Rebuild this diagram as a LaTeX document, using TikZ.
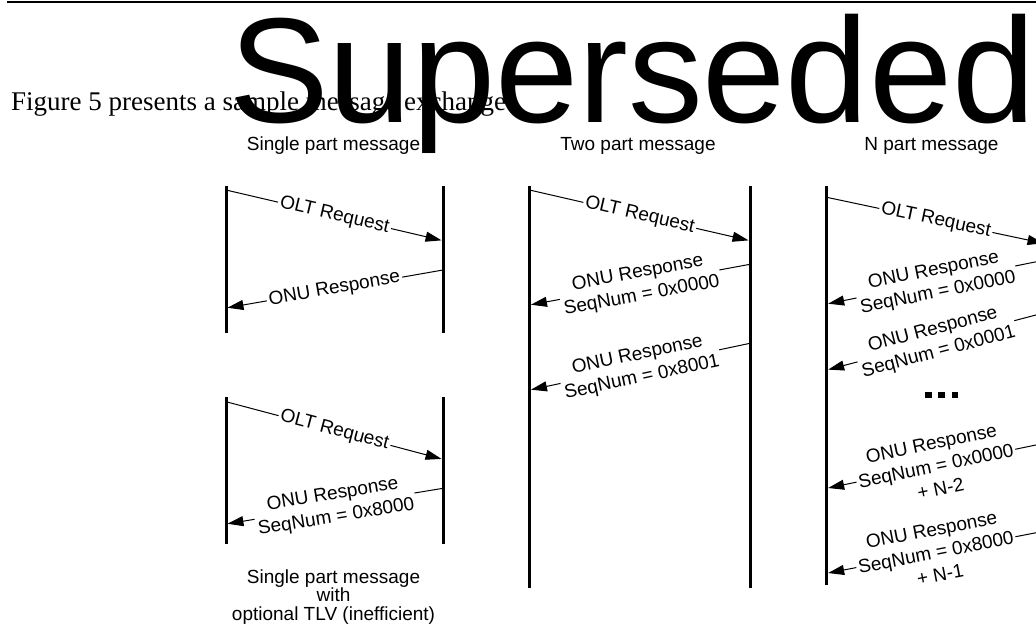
\documentclass[tikz,border=0pt]{standalone}
\usepackage{fontspec}
\setmainfont{Liberation Serif}
\newfontfamily\arialfont{Liberation Sans}
\usetikzlibrary{arrows.meta}
\begin{document}
\begin{tikzpicture}[x=1pt,y=-1pt,
  life/.style={line width=3pt},
  msg/.style={line width=1pt,-{Triangle[length=16pt,width=10pt]},shorten >=1.5pt},
  lbl/.style={sloped,fill=white,inner sep=2pt,align=center,
    font=\arialfont\fontsize{19}{23}\selectfont},
  txt/.style={inner sep=0pt,font=\arialfont\fontsize{19}{22}\selectfont}]
\useasboundingbox (0,0) rectangle (1036,635);
\begin{scope}
\clip (0,0) rectangle (1036,635);
% top rule
\draw[line width=2pt] (7,2) -- (1040,2);
% intro text
\node[anchor=base west,inner sep=0pt,font=\fontsize{27}{30}\selectfont] (intro) at (11,110) {Figure 5 presents a sample message exchange};
% headers
\node[txt,anchor=base] (h1) at (333.5,150) {Single part message};
\node[txt,anchor=base] (h2) at (638,150) {Two part message};
\node[txt,anchor=base] (h3) at (931.5,150) {N part message};
% footer
\node[txt,anchor=base] (f1) at (333.5,583) {Single part message};
\node[txt,anchor=base] (f2) at (333.5,601.5) {with};
\node[txt,anchor=base] (f3) at (333.5,620) {optional TLV (inefficient)};
% lifelines
\draw[life] (226,186) -- (226,333);
\draw[life] (443,186) -- (443,333);
\draw[life] (226,397) -- (226,544);
\draw[life] (443,397) -- (443,544);
\draw[life] (529.5,186) -- (529.5,588);
\draw[life] (750,186) -- (750,588);
\draw[life] (826.7,186) -- (826.7,585);
\draw[life] (1045,186) -- (1045,585);
% message end points
\coordinate (a1) at (226,190);   \coordinate (a2) at (443,240.7);
\coordinate (b1) at (443,270);   \coordinate (b2) at (226,308);
\coordinate (c1) at (226,401.7); \coordinate (c2) at (443,459.3);
\coordinate (d1) at (443,488.3); \coordinate (d2) at (226,524);
\coordinate (e1) at (529.5,190); \coordinate (e2) at (750,240.7);
\coordinate (g1) at (750,264.3); \coordinate (g2) at (529.5,305);
\coordinate (k1) at (750,343.3); \coordinate (k2) at (529.5,390);
\coordinate (m1) at (826.7,197.3); \coordinate (m2) at (1045,243.6);
\coordinate (n1) at (1045,260);  \coordinate (n2) at (826.7,304);
\coordinate (p1) at (1045,312.6); \coordinate (p2) at (826.7,370);
\coordinate (q1) at (1045,443.1); \coordinate (q2) at (826.7,488.3);
\coordinate (r1) at (1045,531);  \coordinate (r2) at (826.7,573.3);
% messages
\draw[msg] (a1) -- node[lbl] (la) {OLT Request} (a2);
\draw[msg] (b1) -- node[lbl] (lb) {ONU Response} (b2);
\draw[msg] (c1) -- node[lbl] (lc) {OLT Request} (c2);
\draw[msg] (d1) -- node[lbl] (ld) {ONU Response\\SeqNum = 0x8000} (d2);
\draw[msg] (e1) -- node[lbl] (le) {OLT Request} (e2);
\draw[msg] (g1) -- node[lbl] (lg) {ONU Response\\SeqNum = 0x0000} (g2);
\draw[msg] (k1) -- node[lbl] (lk) {ONU Response\\SeqNum = 0x8001} (k2);
\draw[msg] (m1) -- node[lbl] (lm) {OLT Request} (m2);
\draw[msg] (n1) -- node[lbl] (ln) {ONU Response\\SeqNum = 0x0000} (n2);
\draw[msg] (p1) -- node[lbl] (lp) {ONU Response\\SeqNum = 0x0001} (p2);
\draw[msg] (q1) -- node[lbl] (lq) {ONU Response\\SeqNum = 0x0000\\+ N-2} (q2);
\draw[msg] (r1) -- node[lbl] (lr) {ONU Response\\SeqNum = 0x8000\\+ N-1} (r2);
% ellipsis
\fill (925,391.7) rectangle (931.7,398.3);
\fill (938.3,391.7) rectangle (945,398.3);
\fill (951.7,391.7) rectangle (958.3,398.3);
% watermark
\node[anchor=base west,inner sep=0pt,font=\arialfont\fontsize{149.5}{156}\selectfont] (wm) at (229,122) {Superseded};
\end{scope}
\end{tikzpicture}
\end{document}
